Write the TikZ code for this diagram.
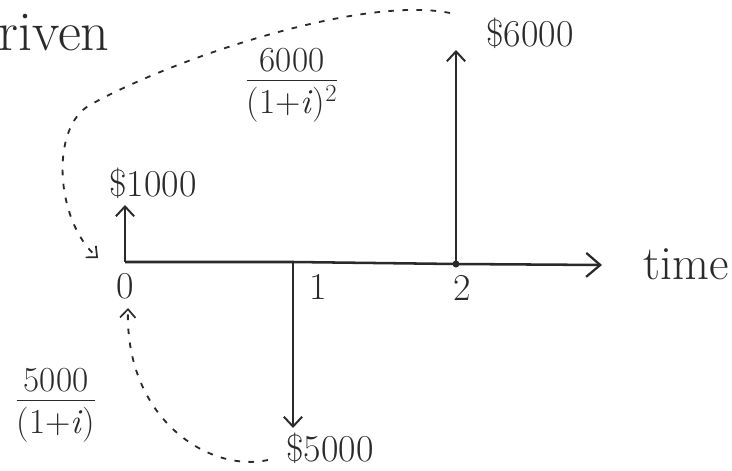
\documentclass[tikz,border=0pt]{standalone}
\usepackage{fontspec}
\usepackage{xcolor}
\usepackage{tikz}
\usetikzlibrary{arrows.meta, positioning, calc}

\definecolor{ink}{HTML}{2A2A2A}

\begin{document}
\begin{tikzpicture}[
    x=0.025cm, y=0.025cm,
    axis/.style={-{Straight Barb[length=10pt, width=17pt, line width=1.6pt]}, ink, line width=1.8pt},
    flow/.style={-{Straight Barb[length=7pt, width=13pt, line width=1.4pt]}, ink, line width=1.8pt},
    pv/.style={-{Straight Barb[length=6pt, width=11pt, line width=1.2pt]}, ink, line width=1.3pt,
               dash pattern=on 4pt off 6pt},
    amount/.style={text=ink, font=\fontsize{27}{30}\selectfont, inner sep=1pt},
    tick/.style={text=ink, font=\fontsize{27}{30}\selectfont, inner sep=1pt},
    frac/.style={text=ink, font=\fontsize{25}{28}\selectfont, inner sep=1pt}
  ]
    \useasboundingbox (0,0) rectangle (732,470);

    % Time axis points
    \coordinate (t0) at (125,208);
    \coordinate (t1) at (293,208);
    \coordinate (t2) at (456,206);
    \coordinate (tend) at (602,205);
    \draw[axis] (t0) -- (t1) -- (t2) -- (tend);
    \fill[ink] (t2) circle (3.5);

    % Cash flow tips
    \coordinate (up0) at (125,265);
    \coordinate (dn1) at (293,42);
    \coordinate (up2) at (456,420);
    \draw[flow] (t0) -- (up0);
    \draw[flow] (t1) -- (dn1);
    \draw[flow] (t2) -- (up2);

    % Amounts
    \node[amount] (c1000) at (153,287) {\$1000};
    \node[amount] (c5000) at (330,22) {\$5000};
    \node[amount] (c6000) at (530,437) {\$6000};

    % Tick labels
    \node[tick] (n0) at (125,184) {0};
    \node[tick] (n1) at (318,183) {1};
    \node[tick] (n2) at (462,182) {2};
    \node[tick, font=\fontsize{34}{38}\selectfont] (time) at (686,206) {time};

    % Heading, cut at the left edge
    \node[text=ink, font=\fontsize{40}{46}\selectfont, anchor=west, inner sep=0pt] (head) at (-2,437) {riven};

    % Present values
    \node[frac] (pv6) at (292,385) {\begin{tabular}{@{}c@{}}6000\\[-3pt]\hline\rule{0pt}{24pt}(1+\textit{i})\textsuperscript{2}\end{tabular}};
    \node[frac] (pv5) at (56,65) {\begin{tabular}{@{}c@{}}5000\\[-3pt]\hline\rule{0pt}{24pt}(1+\textit{i})\end{tabular}};

    % Discounting paths
    \coordinate (s6) at (450,457);
    \coordinate (m6) at (90,365);
    \coordinate (e0) at (98,212);
    \draw[pv] (s6) .. controls (360,475) and (170,410) .. (m6)
                   .. controls (50,343) and (55,250) .. (e0);
    \coordinate (s5) at (268,10);
    \coordinate (e5) at (128,162);
    \draw[pv] (s5) .. controls (210,-3) and (125,50) .. (e5);
  \end{tikzpicture}
\end{document}
